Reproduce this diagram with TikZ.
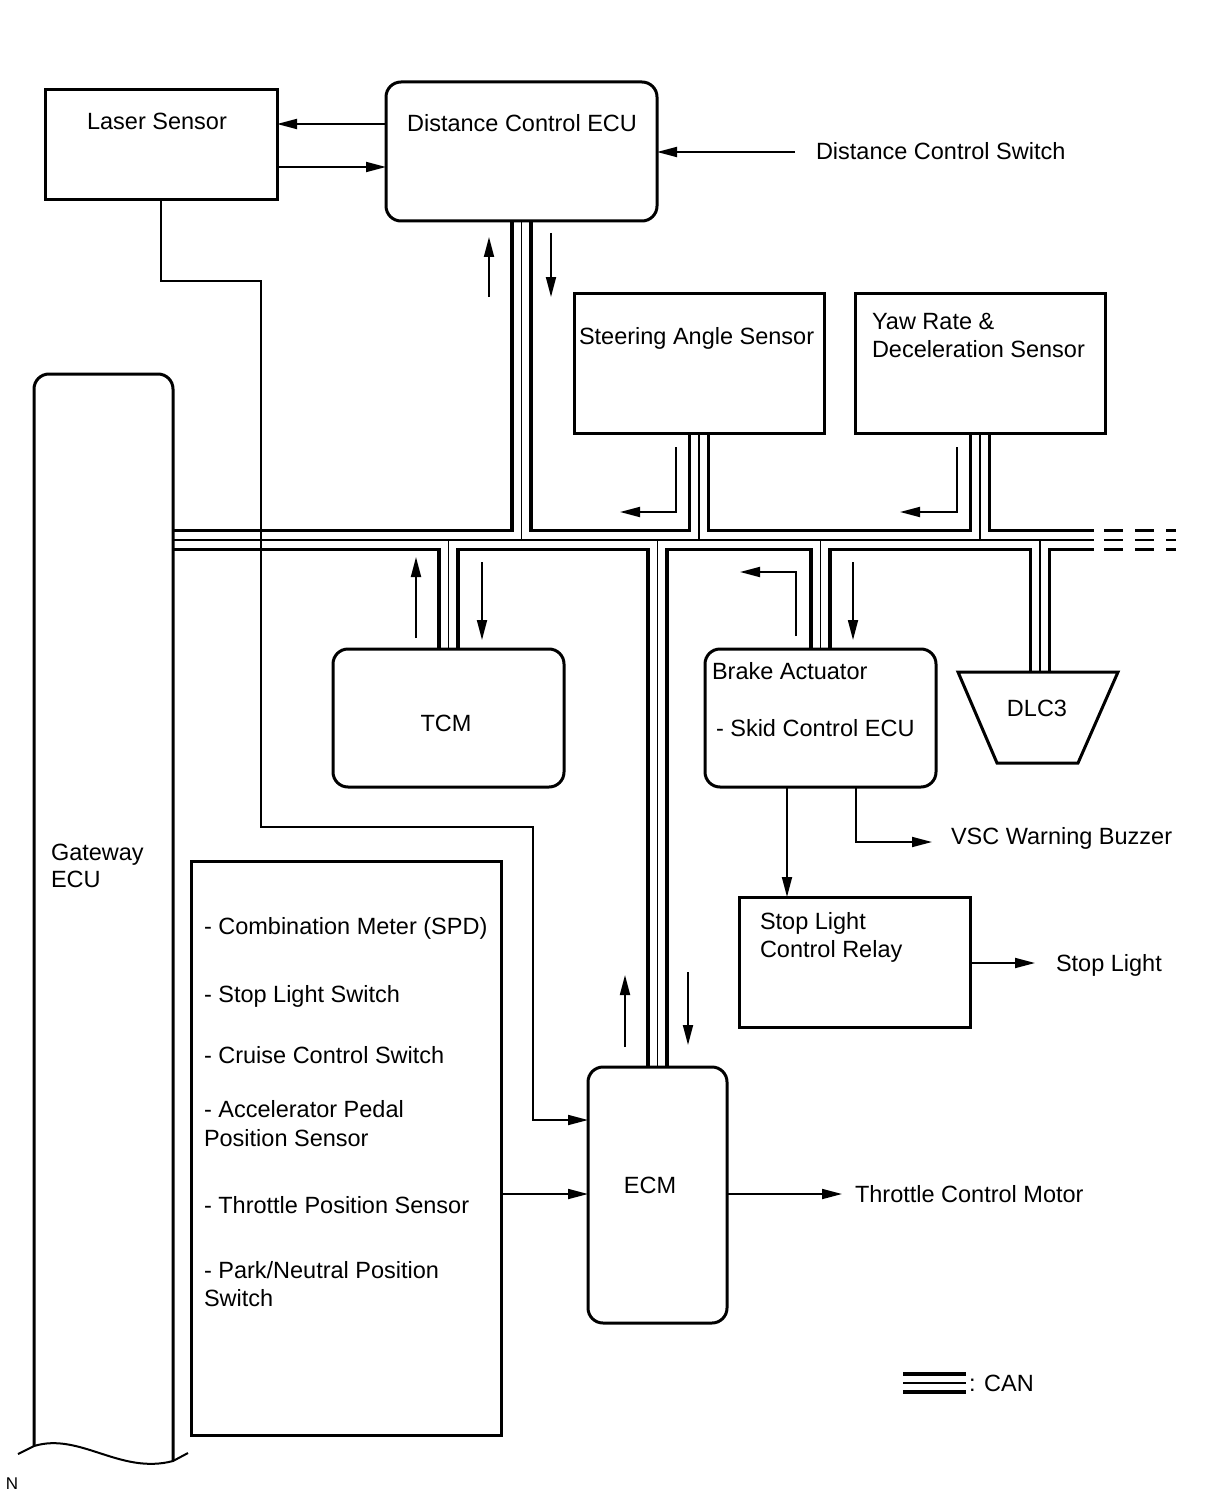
\documentclass[tikz,border=0pt]{standalone}
\usepackage{fontspec}
\setmainfont{Liberation Sans}
\usetikzlibrary{arrows.meta,calc}
\pgfdeclarelayer{bg}
\pgfsetlayers{bg,main}
\newcommand\canpaths[1]{%
 \draw[#1] (busL) -- (busR)
  (dcecu.south) -- (dcecu.south |- busL)
  (steer.south) -- (steer.south |- busL)
  (yaw.south) -- (yaw.south |- busL)
  (tcm.north) -- (tcm.north |- busL)
  (ecm.north) -- (ecm.north |- busL)
  (brake.north) -- (brake.north |- busL)
  (dlcTop) -- (dlcTop |- busL);}
\begin{document}
\begin{tikzpicture}[x=0.5pt,y=-0.5pt,
  font=\fontsize{11.75pt}{14pt}\selectfont,
  every node/.style={inner sep=0pt, outer sep=0pt},
  sbox/.style={draw, line width=1.5pt, rectangle, line join=miter},
  rbox/.style={sbox, rounded corners=7.5pt},
  txt/.style={anchor=base west},
  ctxt/.style={anchor=base},
  arr/.style={line width=0.9pt, -{Triangle[length=10pt,width=5pt]}},
  canouter/.style={line width=11.25pt, black},
  caninner/.style={line width=7.75pt, white},
  canmid/.style={line width=0.8pt, black},
  candash/.style={dash pattern=on 9.5pt off 6pt},
]
\useasboundingbox (0,0) rectangle (1210,1498);

% boxes
\node[sbox, minimum width=116pt, minimum height=55pt] (laser) at (161,145) {};
\node[rbox, minimum width=135.5pt, minimum height=69.5pt] (dcecu) at (521.5,151.5) {};
\node[sbox, minimum width=125pt, minimum height=70pt] (steer) at (699,363) {};
\node[sbox, minimum width=125pt, minimum height=70pt] (yaw) at (980,363) {};
\node[rbox, minimum width=115.5pt, minimum height=69pt] (tcm) at (448.5,718) {};
\node[rbox, minimum width=115.5pt, minimum height=69pt] (brake) at (820.5,718) {};
\node[sbox, minimum width=115.5pt, minimum height=65pt] (slcr) at (854.5,962) {};
\node[rbox, minimum width=69.5pt, minimum height=128pt] (ecm) at (657.5,1195) {};
\node[sbox, minimum width=155pt, minimum height=287pt] (inputs) at (346,1148) {};

% DLC3 trapezoid
\draw[line width=1.5pt, line join=miter] (958,672) -- (1118,672) -- (1078,763) -- (997,763) -- cycle;
\coordinate (dlcTop) at (1040,672);

% Gateway ECU
\draw[line width=1.5pt, rounded corners=7.5pt] (34,1446) -- (34,374) -- (173,374) -- (173,1461);
\draw[line width=1pt] (18,1454) -- (34,1446) .. controls (80,1432) and (120,1475) .. (173,1461) -- (188,1453);

% bus coordinates
\coordinate (busL) at (173,540);
\coordinate (busR) at (1094,540);

\begin{pgfonlayer}{bg}
\canpaths{canouter}
\canpaths{caninner}
\canpaths{canmid}
\end{pgfonlayer}
\coordinate (busD) at (1104,540);
\coordinate (busE) at (1176,540);
\draw[candash, line width=1.75pt] ($(busD)+(0,-9.5)$) -- ($(busE)+(0,-9.5)$);
\draw[candash, line width=0.8pt] (busD) -- (busE);
\draw[candash, line width=1.75pt] ($(busD)+(0,9.5)$) -- ($(busE)+(0,9.5)$);

% texts
\node[ctxt] (laserT) at (157,130) {Laser Sensor};
\node[ctxt] (dcecuT) at (522,132) {Distance Control ECU};
\node[txt] (dcswT) at (816,160) {Distance Control Switch};
\node[txt] (steerT) at (579,344) {Steering Angle Sensor};
\node[txt] (yawT1) at (872,329) {Yaw Rate \&};
\node[txt] (yawT2) at (872,357) {Deceleration Sensor};
\node[ctxt] (tcmT) at (446,731) {TCM};
\node[txt] (brakeT1) at (712,679) {Brake Actuator};
\node[txt] (brakeT2) at (716,736) {- Skid Control ECU};
\node[ctxt] (dlcT) at (1037,716) {DLC3};
\node[txt] (vscT) at (951,844) {VSC Warning Buzzer};
\node[txt] (slcrT1) at (760,929) {Stop Light};
\node[txt] (slcrT2) at (760,957) {Control Relay};
\node[txt] (stopT) at (1056,971) {Stop Light};
\node[txt] (gwT1) at (51,860) {Gateway};
\node[txt] (gwT2) at (51,887) {ECU};
\node[txt] (in1) at (204,934) {- Combination Meter (SPD)};
\node[txt] (in2) at (204,1002) {- Stop Light Switch};
\node[txt] (in3) at (204,1063) {- Cruise Control Switch};
\node[txt] (in4) at (204,1117) {- Accelerator Pedal};
\node[txt] (in5) at (204,1146) {Position Sensor};
\node[txt] (in6) at (204,1213) {- Throttle Position Sensor};
\node[txt] (in7) at (204,1278) {- Park/Neutral Position};
\node[txt] (in8) at (204,1306) {Switch};
\node[ctxt] (ecmT) at (650,1193) {ECM};
\node[txt] (thrT) at (855,1202) {Throttle Control Motor};
\node[txt] (canT) at (969,1391) {: CAN};
\node[ctxt, font=\fontsize{8.5pt}{10pt}\selectfont] (nT) at (12,1489) {N};

% legend
\coordinate (lgA) at (903,1383);
\coordinate (lgB) at (966,1383);
\draw[line width=1.75pt] ($(lgA)+(0,-9)$) -- ($(lgB)+(0,-9)$);
\draw[line width=1pt] (lgA) -- (lgB);
\draw[line width=1.75pt] ($(lgA)+(0,9)$) -- ($(lgB)+(0,9)$);

% connectors
\coordinate (swA) at (795,152);
\coordinate (thrA) at (842,1194);
\coordinate (vscA) at (932,842);
\coordinate (stopA) at (1035,963);
\draw[arr] (dcecu.west |- 0,124) -- (laser.east |- 0,124);
\draw[arr] (laser.east |- 0,167) -- (dcecu.west |- 0,167);
\draw[arr] (swA) -- (dcecu.east |- swA);
\draw[arr] (laser.south) |- (261,281) |- (533,827) |- (ecm.west |- 0,1120);
\draw[arr] (inputs.east |- 0,1194) -- (ecm.west |- 0,1194);
\draw[arr] (ecm.east |- thrA) -- (thrA);
\draw[arr] (brake.south -| 787,0) -- (slcr.north -| 787,0);
\draw[arr] (brake.south -| 856,0) |- (vscA);
\draw[arr] (slcr.east |- stopA) -- (stopA);

% CAN data direction arrows
\draw[arr] (489,297) -- (489,237);
\draw[arr] (551,233) -- (551,297);
\draw[arr] (676,447) |- (620,512);
\draw[arr] (957,447) |- (900,512);
\draw[arr] (416,638) -- (416,557);
\draw[arr] (482,562) -- (482,640);
\draw[arr] (796,636) |- (740,572);
\draw[arr] (853,562) -- (853,640);
\draw[arr] (625,1047) -- (625,975);
\draw[arr] (688,972) -- (688,1045);
\end{tikzpicture}
\end{document}
